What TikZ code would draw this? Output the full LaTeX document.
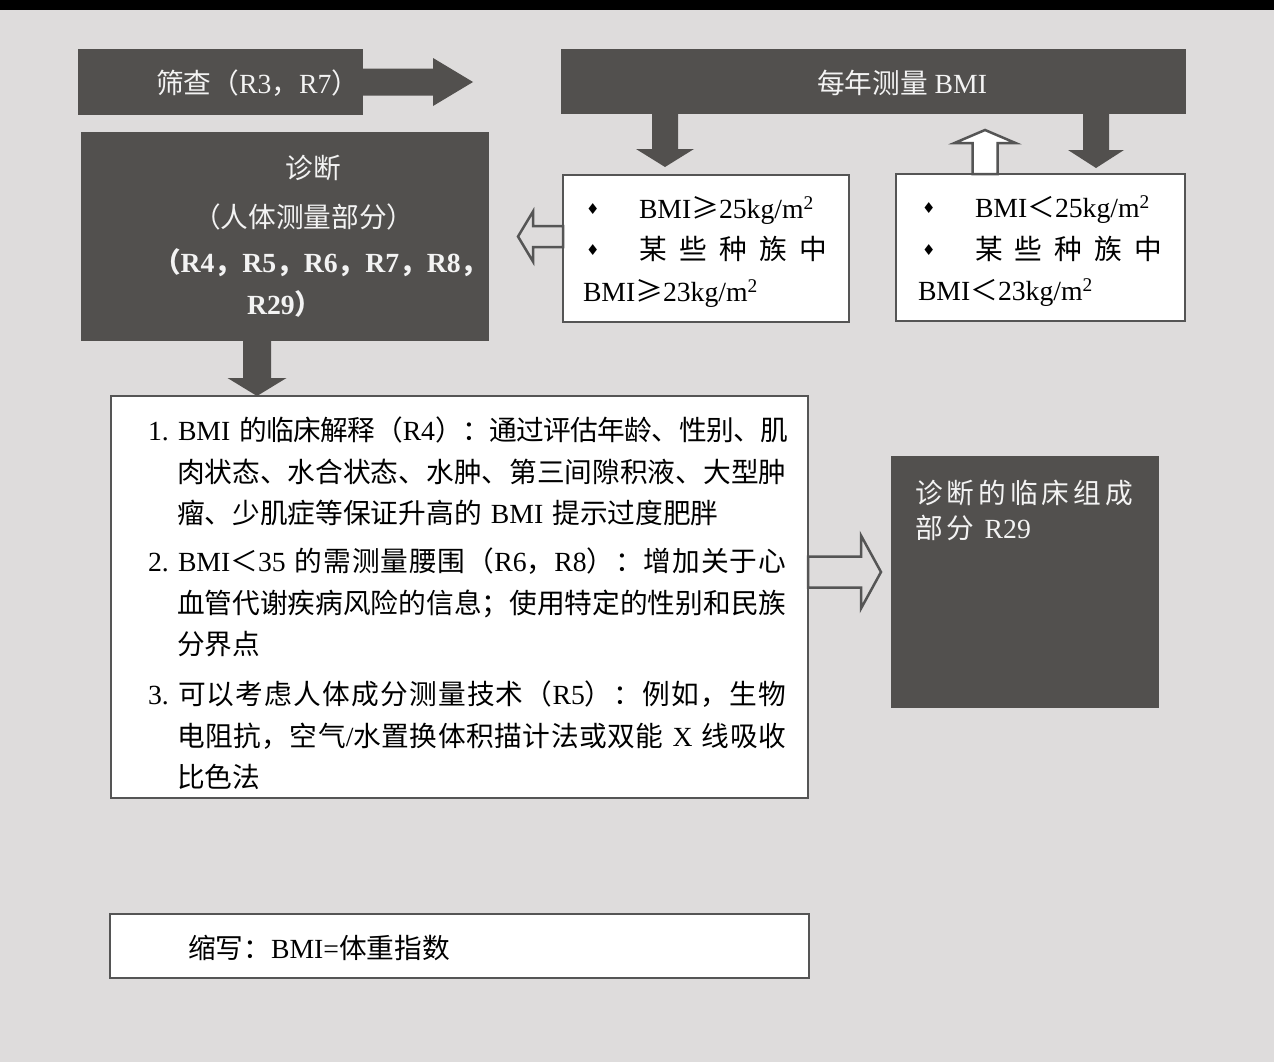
\documentclass[tikz,border=0pt]{standalone}
\usepackage{fontspec}
\setmainfont{Liberation Serif}
\newfontfamily\cjkfont{Noto Sans CJK SC}
\newfontfamily\symfont{DejaVu Sans}
\usetikzlibrary{calc}
% automatic switch to the CJK font for CJK characters
\XeTeXinterchartokenstate=1
\newXeTeXintercharclass\CJKcls
\makeatletter
\newcommand\setcjkrange[2]{\count@=#1\relax
  \loop\XeTeXcharclass\count@=\CJKcls\relax
  \ifnum\count@<#2\relax\advance\count@\@ne\repeat}
\makeatother
\setcjkrange{"3000}{"303F}
\setcjkrange{"4E00}{"9FFF}
\setcjkrange{"FF00}{"FFEF}
\XeTeXcharclass"2265=\CJKcls
\newcommand\cjkglue{}
\XeTeXinterchartoks 0 \CJKcls = {\cjkfont}
\XeTeXinterchartoks 4095 \CJKcls = {\cjkfont}
\XeTeXinterchartoks \CJKcls 0 = {\rmfamily}
\XeTeXinterchartoks \CJKcls 4095 = {\rmfamily}
\XeTeXinterchartoks \CJKcls \CJKcls = {\cjkglue}
\newcommand\jline[2]{{\def\cjkglue{\hskip0pt plus 1bp minus 0.6bp\relax}\makebox[#1][s]{#2}}}
\newcommand\bul{\raisebox{4bp}{\symfont\fontsize{15bp}{15bp}\selectfont ♦}}

\definecolor{bg}{RGB}{222,220,220}
\definecolor{dkfill}{RGB}{82,80,78}
\definecolor{bord}{RGB}{85,85,85}
\definecolor{wtext}{RGB}{243,243,243}

% block arrows: #1 style, #2 tail, #3 tip, #4 half shaft, #5 half head, #6 head length
\newcommand\arrR[6]{\path[#1] ($(#2)+(0,-#4)$) -- ($(#3)+(-#6,-#4)$) -- ($(#3)+(-#6,-#5)$) -- (#3) -- ($(#3)+(-#6,#5)$) -- ($(#3)+(-#6,#4)$) -- ($(#2)+(0,#4)$) -- cycle;}
\newcommand\arrL[6]{\path[#1] ($(#2)+(0,-#4)$) -- ($(#3)+(#6,-#4)$) -- ($(#3)+(#6,-#5)$) -- (#3) -- ($(#3)+(#6,#5)$) -- ($(#3)+(#6,#4)$) -- ($(#2)+(0,#4)$) -- cycle;}
\newcommand\arrD[6]{\path[#1] ($(#2)+(-#4,0)$) -- ($(#3)+(-#4,-#6)$) -- ($(#3)+(-#5,-#6)$) -- (#3) -- ($(#3)+(#5,-#6)$) -- ($(#3)+(#4,-#6)$) -- ($(#2)+(#4,0)$) -- cycle;}
\newcommand\arrU[6]{\path[#1] ($(#2)+(-#4,0)$) -- ($(#3)+(-#4,#6)$) -- ($(#3)+(-#5,#6)$) -- (#3) -- ($(#3)+(#5,#6)$) -- ($(#3)+(#4,#6)$) -- ($(#2)+(#4,0)$) -- cycle;}

\tikzset{
  darkbox/.style={fill=dkfill, draw=none, inner sep=0, outer sep=0, anchor=north west},
  whitebox/.style={fill=white, draw=bord, line width=2.5bp, inner sep=0, outer sep=0, anchor=north west},
  txt/.style={inner sep=0, outer sep=0, anchor=base west, text=black,
    font=\fontsize{27.7bp}{41.5bp}\selectfont\frenchspacing},
  wtxt/.style={txt, text=wtext},
  para/.style={txt, text width=700bp, align=left},
  solidarr/.style={fill=dkfill, draw=none},
  hollowW/.style={fill=white, draw=bord, line width=2.5bp, line join=miter},
  hollowG/.style={fill=bg, draw=bord, line width=2.5bp, line join=miter},
}

\begin{document}
\begin{tikzpicture}[x=1bp, y=-1bp]
\useasboundingbox (0,0) rectangle (1274,1062);
\fill[bg] (0,0) rectangle (1274,1062);
\fill[black] (0,0) rectangle (1274,10);

% boxes
\node[darkbox, minimum width=285bp, minimum height=66bp] (scr) at (78,49) {};
\node[darkbox, minimum width=625bp, minimum height=65bp] (annual) at (561,49) {};
\node[darkbox, minimum width=408bp, minimum height=209bp] (diag) at (81,132) {};
\node[whitebox, minimum width=286bp, minimum height=147bp] (cond1) at (563,175) {};
\node[whitebox, minimum width=289bp, minimum height=147bp] (cond2) at (896,174) {};
\node[whitebox, minimum width=697bp, minimum height=402bp] (big) at (111,396) {};
\node[darkbox, minimum width=268bp, minimum height=252bp] (clin) at (891,456) {};
\node[whitebox, minimum width=699bp, minimum height=64bp] (abbr) at (110,914) {};

% connectors (block arrows)
\coordinate (tA) at ($(scr.east)+(110,0)$);
\arrR{solidarr}{scr.east}{tA}{13.5}{24}{40}

\coordinate (xB) at (665,0);
\coordinate (sB) at (annual.south -| xB);
\coordinate (eB) at ($(cond1.north -| xB)+(0,-8)$);
\arrD{solidarr}{sB}{eB}{13}{29}{18}

\coordinate (xC) at (1096,0);
\coordinate (sC) at (annual.south -| xC);
\coordinate (eC) at ($(cond2.north -| xC)+(0,-6)$);
\arrD{solidarr}{sC}{eC}{13}{28}{18}

\coordinate (xD) at (985,0);
\coordinate (sD) at (cond2.north -| xD);
\coordinate (eD) at ($(annual.south -| xD)+(0,16)$);
\arrU{hollowW}{sD}{eD}{12.5}{30.5}{13}

\coordinate (yE) at (0,236.5);
\coordinate (sE) at (cond1.west |- yE);
\coordinate (eE) at ($(diag.east |- yE)+(29,0)$);
\arrL{hollowG}{sE}{eE}{10.5}{25}{15}

\coordinate (xF) at (257,0);
\coordinate (sF) at (diag.south -| xF);
\coordinate (eF) at (big.north -| xF);
\arrD{solidarr}{sF}{eF}{14}{29.5}{18}

\coordinate (yG) at (0,572);
\coordinate (sG) at (big.east |- yG);
\coordinate (eG) at ($(clin.west |- yG)+(-10,0)$);
\arrR{hollowG}{sG}{eG}{15.5}{36.5}{20}

% texts
\node[wtxt] (tscr) at (156,93.5) {筛查（R3，R7）};
\node[wtxt] (tann) at (817,93.5) {每年测量 BMI};

\node[wtxt, anchor=base] (td1) at (313,178.5) {诊断};
\node[wtxt] (td2) at (193,227.5) {（人体测量部分）};
\node[wtxt, font=\fontsize{27.7bp}{41.5bp}\selectfont\bfseries] (td3) at (153,272) {（R4，R5，R6，R7，R8，};
\node[wtxt, font=\fontsize{27.7bp}{41.5bp}\selectfont\bfseries] (td4) at (247,314.5) {R29）};

\node[para] (tc1) at (583,218) {\hspace*{3bp}\makebox[53bp][l]{\bul}BMI≥25kg/m\textsuperscript{2}\\
\hspace*{3bp}\makebox[53bp][l]{\bul}\makebox[188bp][s]{某\hfill 些\hfill 种\hfill 族\hfill 中}\\
BMI≥23kg/m\textsuperscript{2}};

\node[para] (tc2) at (918,217.5) {\hspace*{4bp}\makebox[53bp][l]{\bul}BMI＜25kg/m\textsuperscript{2}\\
\hspace*{4bp}\makebox[53bp][l]{\bul}\makebox[187bp][s]{某\hfill 些\hfill 种\hfill 族\hfill 中}\\
BMI＜23kg/m\textsuperscript{2}};

\node[para] (ti1) at (148,440.5) {\jline{638bp}{1. BMI 的临床解释（R4）：通过评估年龄、性别、肌}\\
\hspace*{29bp}肉状态、水合状态、水肿、第三间隙积液、大型肿\\
\hspace*{29bp}瘤、少肌症等保证升高的 BMI 提示过度肥胖};

\node[para] (ti2) at (148,571.5) {\jline{638bp}{2. BMI＜35 的需测量腰围（R6，R8）：增加关于心}\\
\hspace*{29bp}血管代谢疾病风险的信息；使用特定的性别和民族\\
\hspace*{29bp}分界点};

\node[para] (ti3) at (148,704.5) {\jline{638bp}{3. 可以考虑人体成分测量技术（R5）：例如，生物}\\
\hspace*{29bp}\jline{609bp}{电阻抗，空气/水置换体积描计法或双能 X 线吸收}\\
\hspace*{29bp}比色法};

\node[wtxt] (tcl1) at (915,503.5) {\jline{218bp}{诊断的临床组成}};
\node[wtxt] (tcl2) at (915,538.5) {部\hspace{3.3bp}分\hspace{11bp}R29};

\node[txt] (tab) at (188,958) {缩写：BMI=体重指数};
\end{tikzpicture}
\end{document}
